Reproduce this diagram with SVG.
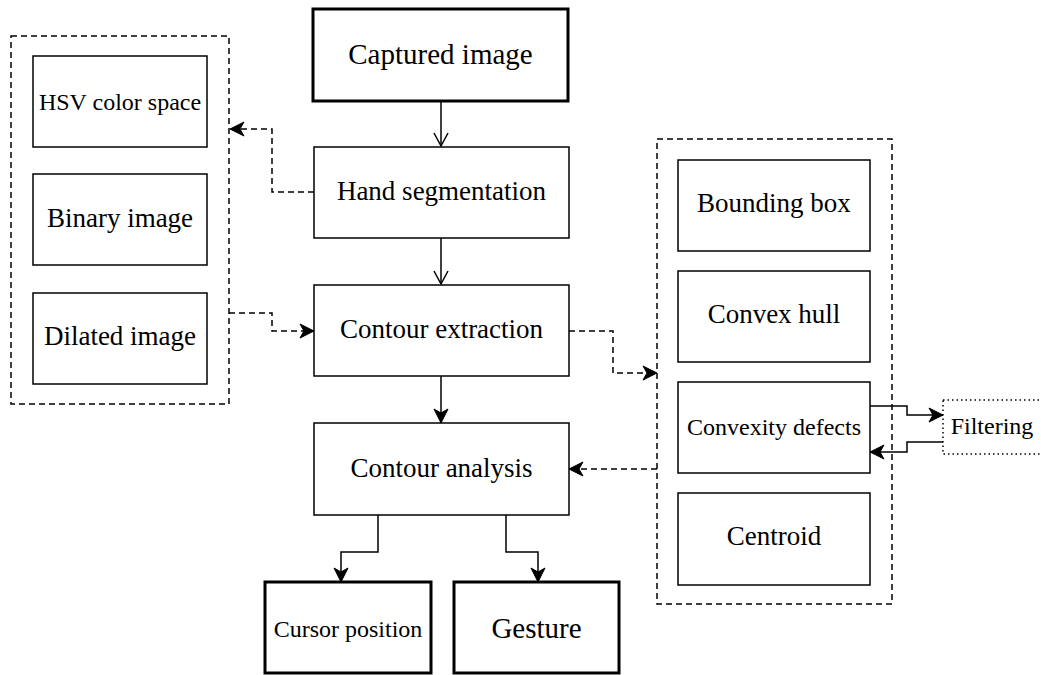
<svg xmlns="http://www.w3.org/2000/svg" width="1041" height="675" viewBox="0 0 1041 675">
<style>
.box{fill:#fff;stroke:#000;stroke-width:1.5}
.thick{fill:#fff;stroke:#000;stroke-width:3}
.grp{fill:none;stroke:#000;stroke-width:1.5;stroke-dasharray:6 4}
.dot{fill:none;stroke:#000;stroke-width:1.5;stroke-dasharray:1.5 3}
.ln{fill:none;stroke:#000;stroke-width:1.5}
.dl{fill:none;stroke:#000;stroke-width:1.5;stroke-dasharray:6 4}
text{font-family:"Liberation Serif","Times New Roman",serif;fill:#000;text-anchor:middle}
.t27{font-size:27px}
.t24{font-size:24px}
.t29{font-size:29px}
</style>
<defs>
<marker id="fa" markerUnits="userSpaceOnUse" markerWidth="16" markerHeight="16" refX="14" refY="7" orient="auto" overflow="visible">
<path d="M0,0 L14,7 L0,14 L4,7 Z" fill="#000" stroke="#000" stroke-width="1"/>
</marker>
<marker id="oa" markerUnits="userSpaceOnUse" markerWidth="16" markerHeight="16" refX="13" refY="7" orient="auto" overflow="visible">
<path d="M0,0 L13,7 L0,14" fill="none" stroke="#000" stroke-width="1.5"/>
</marker>
</defs>

<g id="group-left"><rect class="grp" x="11" y="36" width="218" height="368"/></g>
<g id="group-right"><rect class="grp" x="657" y="139" width="235" height="465"/></g>

<g id="connectors">
<path class="ln" d="M441,101 L441,146" marker-end="url(#oa)"/>
<path class="ln" d="M441,238 L441,284" marker-end="url(#oa)"/>
<path class="ln" d="M441,376 L441,423" marker-end="url(#fa)"/>
<path class="dl" d="M314,192 L272,192 L272,129 L230,129" marker-end="url(#fa)"/>
<path class="dl" d="M229,313 L272,313 L272,331 L314,331" marker-end="url(#fa)"/>
<path class="dl" d="M569,331 L613,331 L613,373 L657,373" marker-end="url(#fa)"/>
<path class="dl" d="M657,469 L569,469" marker-end="url(#fa)"/>
<path class="ln" d="M870,406 L907,406 L907,415 L943,415" marker-end="url(#fa)"/>
<path class="ln" d="M943,442 L907,442 L907,452 L870,452" marker-end="url(#fa)"/>
<path class="ln" d="M378,515 L378,552 L341,552 L341,582" marker-end="url(#fa)"/>
<path class="ln" d="M506,515 L506,552 L538,552 L538,582" marker-end="url(#fa)"/>
</g>

<g id="captured"><rect class="thick" x="313" y="9" width="255" height="92"/><text class="t29" x="440.5" y="64">Captured image</text></g>
<g id="hand"><rect class="box" x="314" y="147" width="255" height="91"/><text class="t27" x="441.5" y="200">Hand segmentation</text></g>
<g id="extraction"><rect class="box" x="314" y="285" width="255" height="91"/><text class="t27" x="441.5" y="338">Contour extraction</text></g>
<g id="analysis"><rect class="box" x="314" y="423" width="255" height="92"/><text class="t27" x="441.5" y="477">Contour analysis</text></g>
<g id="cursor"><rect class="thick" x="265" y="582" width="166" height="91"/><text class="t24" x="348" y="637">Cursor position</text></g>
<g id="gesture"><rect class="thick" x="454" y="582" width="165" height="91"/><text class="t29" x="536.5" y="638">Gesture</text></g>

<g id="hsv"><rect class="box" x="33" y="56" width="174" height="91"/><text class="t24" x="120" y="110">HSV color space</text></g>
<g id="binary"><rect class="box" x="33" y="174" width="174" height="91"/><text class="t27" x="120" y="227">Binary image</text></g>
<g id="dilated"><rect class="box" x="33" y="293" width="174" height="91"/><text class="t27" x="120" y="345">Dilated image</text></g>

<g id="bbox"><rect class="box" x="678" y="160" width="192" height="91"/><text class="t27" x="774" y="212">Bounding box</text></g>
<g id="hull"><rect class="box" x="678" y="271" width="192" height="91"/><text class="t27" x="774" y="323">Convex hull</text></g>
<g id="defects"><rect class="box" x="678" y="382" width="192" height="91"/><text class="t24" x="774" y="435">Convexity defects</text></g>
<g id="centroid"><rect class="box" x="678" y="493" width="192" height="92"/><text class="t27" x="774" y="545">Centroid</text></g>

<g id="filtering"><rect class="dot" x="943" y="400" width="100" height="54"/><text class="t24" x="992" y="434">Filtering</text></g>
</svg>
